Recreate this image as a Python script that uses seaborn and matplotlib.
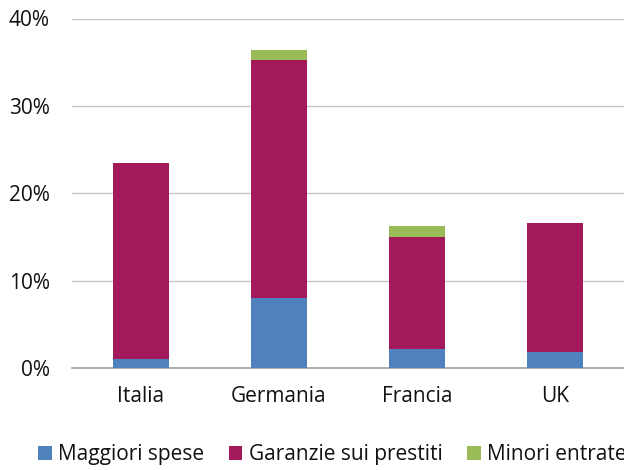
import matplotlib
matplotlib.use("Agg")
import matplotlib.pyplot as plt
from matplotlib.patches import Patch
import pandas as pd
import seaborn as sns

paesi = ["Italia", "Germania", "Francia", "UK"]
maggiori_spese = [1.0, 8.0, 2.2, 1.8]
garanzie = [22.5, 27.3, 12.8, 14.85]
minori_entrate = [0.0, 1.1, 1.3, 0.0]
serie = ["Maggiori spese", "Garanzie sui prestiti", "Minori entrate"]
colori = ["#4F81BD", "#A31A5A", "#9BBB59"]

df = pd.DataFrame({"paese": paesi, "spese": maggiori_spese,
                   "garanzie": garanzie, "entrate": minori_entrate})
df["liv1"] = df["spese"]
df["liv2"] = df["liv1"] + df["garanzie"]
df["liv3"] = df["liv2"] + df["entrate"]

sns.set_style("white")
plt.rcParams["font.family"] = ["Open Sans", "DejaVu Sans"]
plt.rcParams["text.color"] = "#111111"

fig = plt.figure(figsize=(6.24, 4.70), dpi=100)
ax = fig.add_axes([72 / 624, 1 - 368 / 470, 552 / 624, 349.5 / 470])

# stacked bars: draw cumulative heights from top to bottom
for col, c in zip(["liv3", "liv2", "liv1"], colori[::-1]):
    sns.barplot(data=df, x="paese", y=col, color=c, width=0.41,
                saturation=1, linewidth=0, ax=ax, zorder=3)

ax.set_xlim(-0.5, 3.5)
ax.set_ylim(0, 40)
ax.set_yticks([0, 10, 20, 30, 40])
ax.set_yticklabels(["0%", "10%", "20%", "30%", "40%"])
ax.yaxis.grid(True, color="#C4C4C4", linewidth=1, zorder=0)
ax.set_xlabel("")
ax.set_ylabel("")
for s in ["left", "right", "top"]:
    ax.spines[s].set_visible(False)
ax.spines["bottom"].set_color("#A0A0A0")
ax.spines["bottom"].set_linewidth(1.2)

ax.set_xticks([-0.5, 0.5, 1.5, 2.5], minor=True)
ax.tick_params(axis="x", which="minor", length=9, width=1.2, color="#A0A0A0")
ax.tick_params(axis="x", which="major", length=0, pad=13, labelsize=15,
               labelcolor="#111111")
ax.tick_params(axis="y", length=0, pad=16, labelsize=15, labelcolor="#111111")

handles = [Patch(facecolor=c, edgecolor="none") for c in colori]
fig.legend(handles, serie, loc="center left", bbox_to_anchor=(38 / 624, 0.032),
           ncol=3, frameon=False, fontsize=15, handlelength=0.65,
           handleheight=0.65, handletextpad=0.3, columnspacing=1.2,
           borderaxespad=0, borderpad=0)

fig.savefig("out.png", dpi=100)
